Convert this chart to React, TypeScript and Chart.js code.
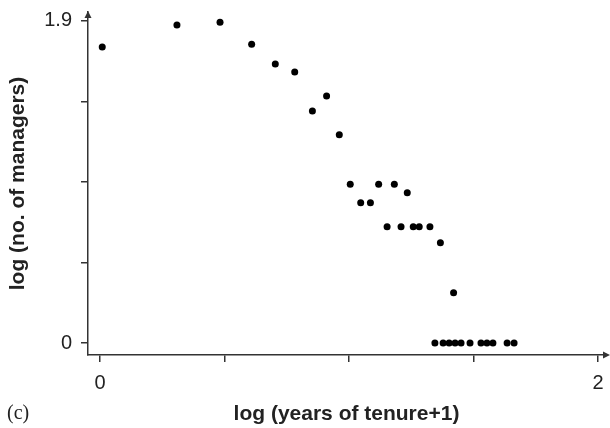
import React, { useEffect, useRef } from "react";
import { Chart, registerables } from "chart.js";

Chart.register(...registerables);

// log(years of tenure + 1)
const tenureLog = [
  0.009, 0.309, 0.482, 0.609, 0.704, 0.782, 0.853, 0.91, 0.961, 1.005,
  1.047, 1.086, 1.119, 1.182, 1.234, 1.153, 1.209, 1.258, 1.282, 1.325,
  1.367, 1.42, 1.345, 1.378, 1.402, 1.426, 1.45, 1.486, 1.53, 1.554,
  1.578, 1.635, 1.663,
];
// log(no. of managers)
const managersLog = [
  1.746, 1.876, 1.892, 1.762, 1.646, 1.599, 1.369, 1.457, 1.229, 0.936,
  0.828, 0.828, 0.936, 0.936, 0.887, 0.686, 0.686, 0.686, 0.686, 0.686,
  0.592, 0.297, 0, 0, 0, 0, 0, 0, 0, 0,
  0, 0, 0,
];

const xTickValues = [0, 0.5, 1, 1.5, 2];
const xTickLabels = ["0", "", "", "", "2"];
const yTickValues = [0, 0.475, 0.95, 1.425, 1.9];
const yTickLabels = ["0", "", "", "", "1.9"];

const xTitle = "log (years of tenure+1)";
const yTitle = "log (no. of managers)";
const panelLabel = "(c)";

const FONT = "'Liberation Sans', Arial, Helvetica, sans-serif";
const AXIS = "#333";
const TEXT = "#222";

const arrowPlugin = {
  id: "axisArrows",
  afterDraw(chart: any) {
    const { ctx, chartArea: a } = chart;
    ctx.save();
    ctx.fillStyle = AXIS;
    ctx.beginPath();
    ctx.moveTo(a.left, a.top - 1);
    ctx.lineTo(a.left - 3.5, a.top + 6);
    ctx.lineTo(a.left + 3.5, a.top + 6);
    ctx.closePath();
    ctx.fill();
    ctx.beginPath();
    ctx.moveTo(a.right + 5, a.bottom);
    ctx.lineTo(a.right - 2, a.bottom - 3.5);
    ctx.lineTo(a.right - 2, a.bottom + 3.5);
    ctx.closePath();
    ctx.fill();
    ctx.restore();
  },
};

export default function App() {
  const ref = useRef<HTMLCanvasElement | null>(null);

  useEffect(() => {
    if (!ref.current) return;
    const chart = new Chart(ref.current, {
      type: "scatter",
      data: {
        datasets: [
          {
            data: tenureLog.map((x, i) => ({ x, y: managersLog[i] })),
            backgroundColor: "#000",
            borderWidth: 0,
            pointRadius: 3.5,
            pointHoverRadius: 3.5,
          },
        ],
      },
      options: {
        responsive: false,
        animation: false,
        events: [],
        layout: { padding: { top: 12, right: 5, left: 0, bottom: 0 } },
        plugins: { legend: { display: false }, tooltip: { enabled: false } },
        scales: {
          x: {
            type: "linear",
            min: -0.0482,
            max: 2.0281,
            afterBuildTicks: (s: any) => {
              s.ticks = xTickValues.map((v) => ({ value: v }));
            },
            afterFit: (s: any) => {
              s.height = 73;
              s.paddingLeft = 0;
              s.paddingRight = 0;
            },
            ticks: {
              callback: (_v: any, i: number) => xTickLabels[i],
              autoSkip: false,
              maxRotation: 0,
              padding: 9,
              color: TEXT,
              font: { family: FONT, size: 20 },
            },
            grid: {
              drawOnChartArea: false,
              drawTicks: true,
              tickLength: 7,
              color: AXIS,
              lineWidth: 1.5,
            },
            border: { display: true, color: AXIS, width: 1.5 },
            title: {
              display: true,
              text: xTitle,
              color: TEXT,
              font: { family: FONT, size: 21, weight: "bold" },
              padding: { top: 0, bottom: 1 },
            },
          },
          y: {
            type: "linear",
            min: -0.0708,
            max: 1.953,
            afterBuildTicks: (s: any) => {
              s.ticks = yTickValues.map((v) => ({ value: v }));
            },
            afterFit: (s: any) => {
              s.width = 88;
              s.paddingTop = 0;
              s.paddingBottom = 0;
            },
            ticks: {
              callback: (_v: any, i: number) => yTickLabels[i],
              autoSkip: false,
              padding: 9,
              color: TEXT,
              font: { family: FONT, size: 20 },
            },
            grid: {
              drawOnChartArea: false,
              drawTicks: true,
              tickLength: 7,
              color: AXIS,
              lineWidth: 1.5,
            },
            border: { display: true, color: AXIS, width: 1.5 },
            title: {
              display: true,
              text: yTitle,
              color: TEXT,
              font: { family: FONT, size: 21, weight: "bold" },
              padding: { top: 6, bottom: 0 },
            },
          },
        },
      },
      plugins: [arrowPlugin],
    } as any);
    return () => chart.destroy();
  }, []);

  return (
    <div
      style={{
        position: "fixed",
        left: 0,
        top: 0,
        width: 610,
        height: 428,
        background: "#fff",
      }}
    >
      <canvas ref={ref} width={610} height={428} style={{ display: "block" }} />
      <span
        style={{
          position: "absolute",
          left: 7,
          top: 402,
          fontFamily: "'Liberation Serif', 'Times New Roman', serif",
          fontSize: 20,
          lineHeight: "20px",
          color: TEXT,
        }}
      >
        {panelLabel}
      </span>
    </div>
  );
}
